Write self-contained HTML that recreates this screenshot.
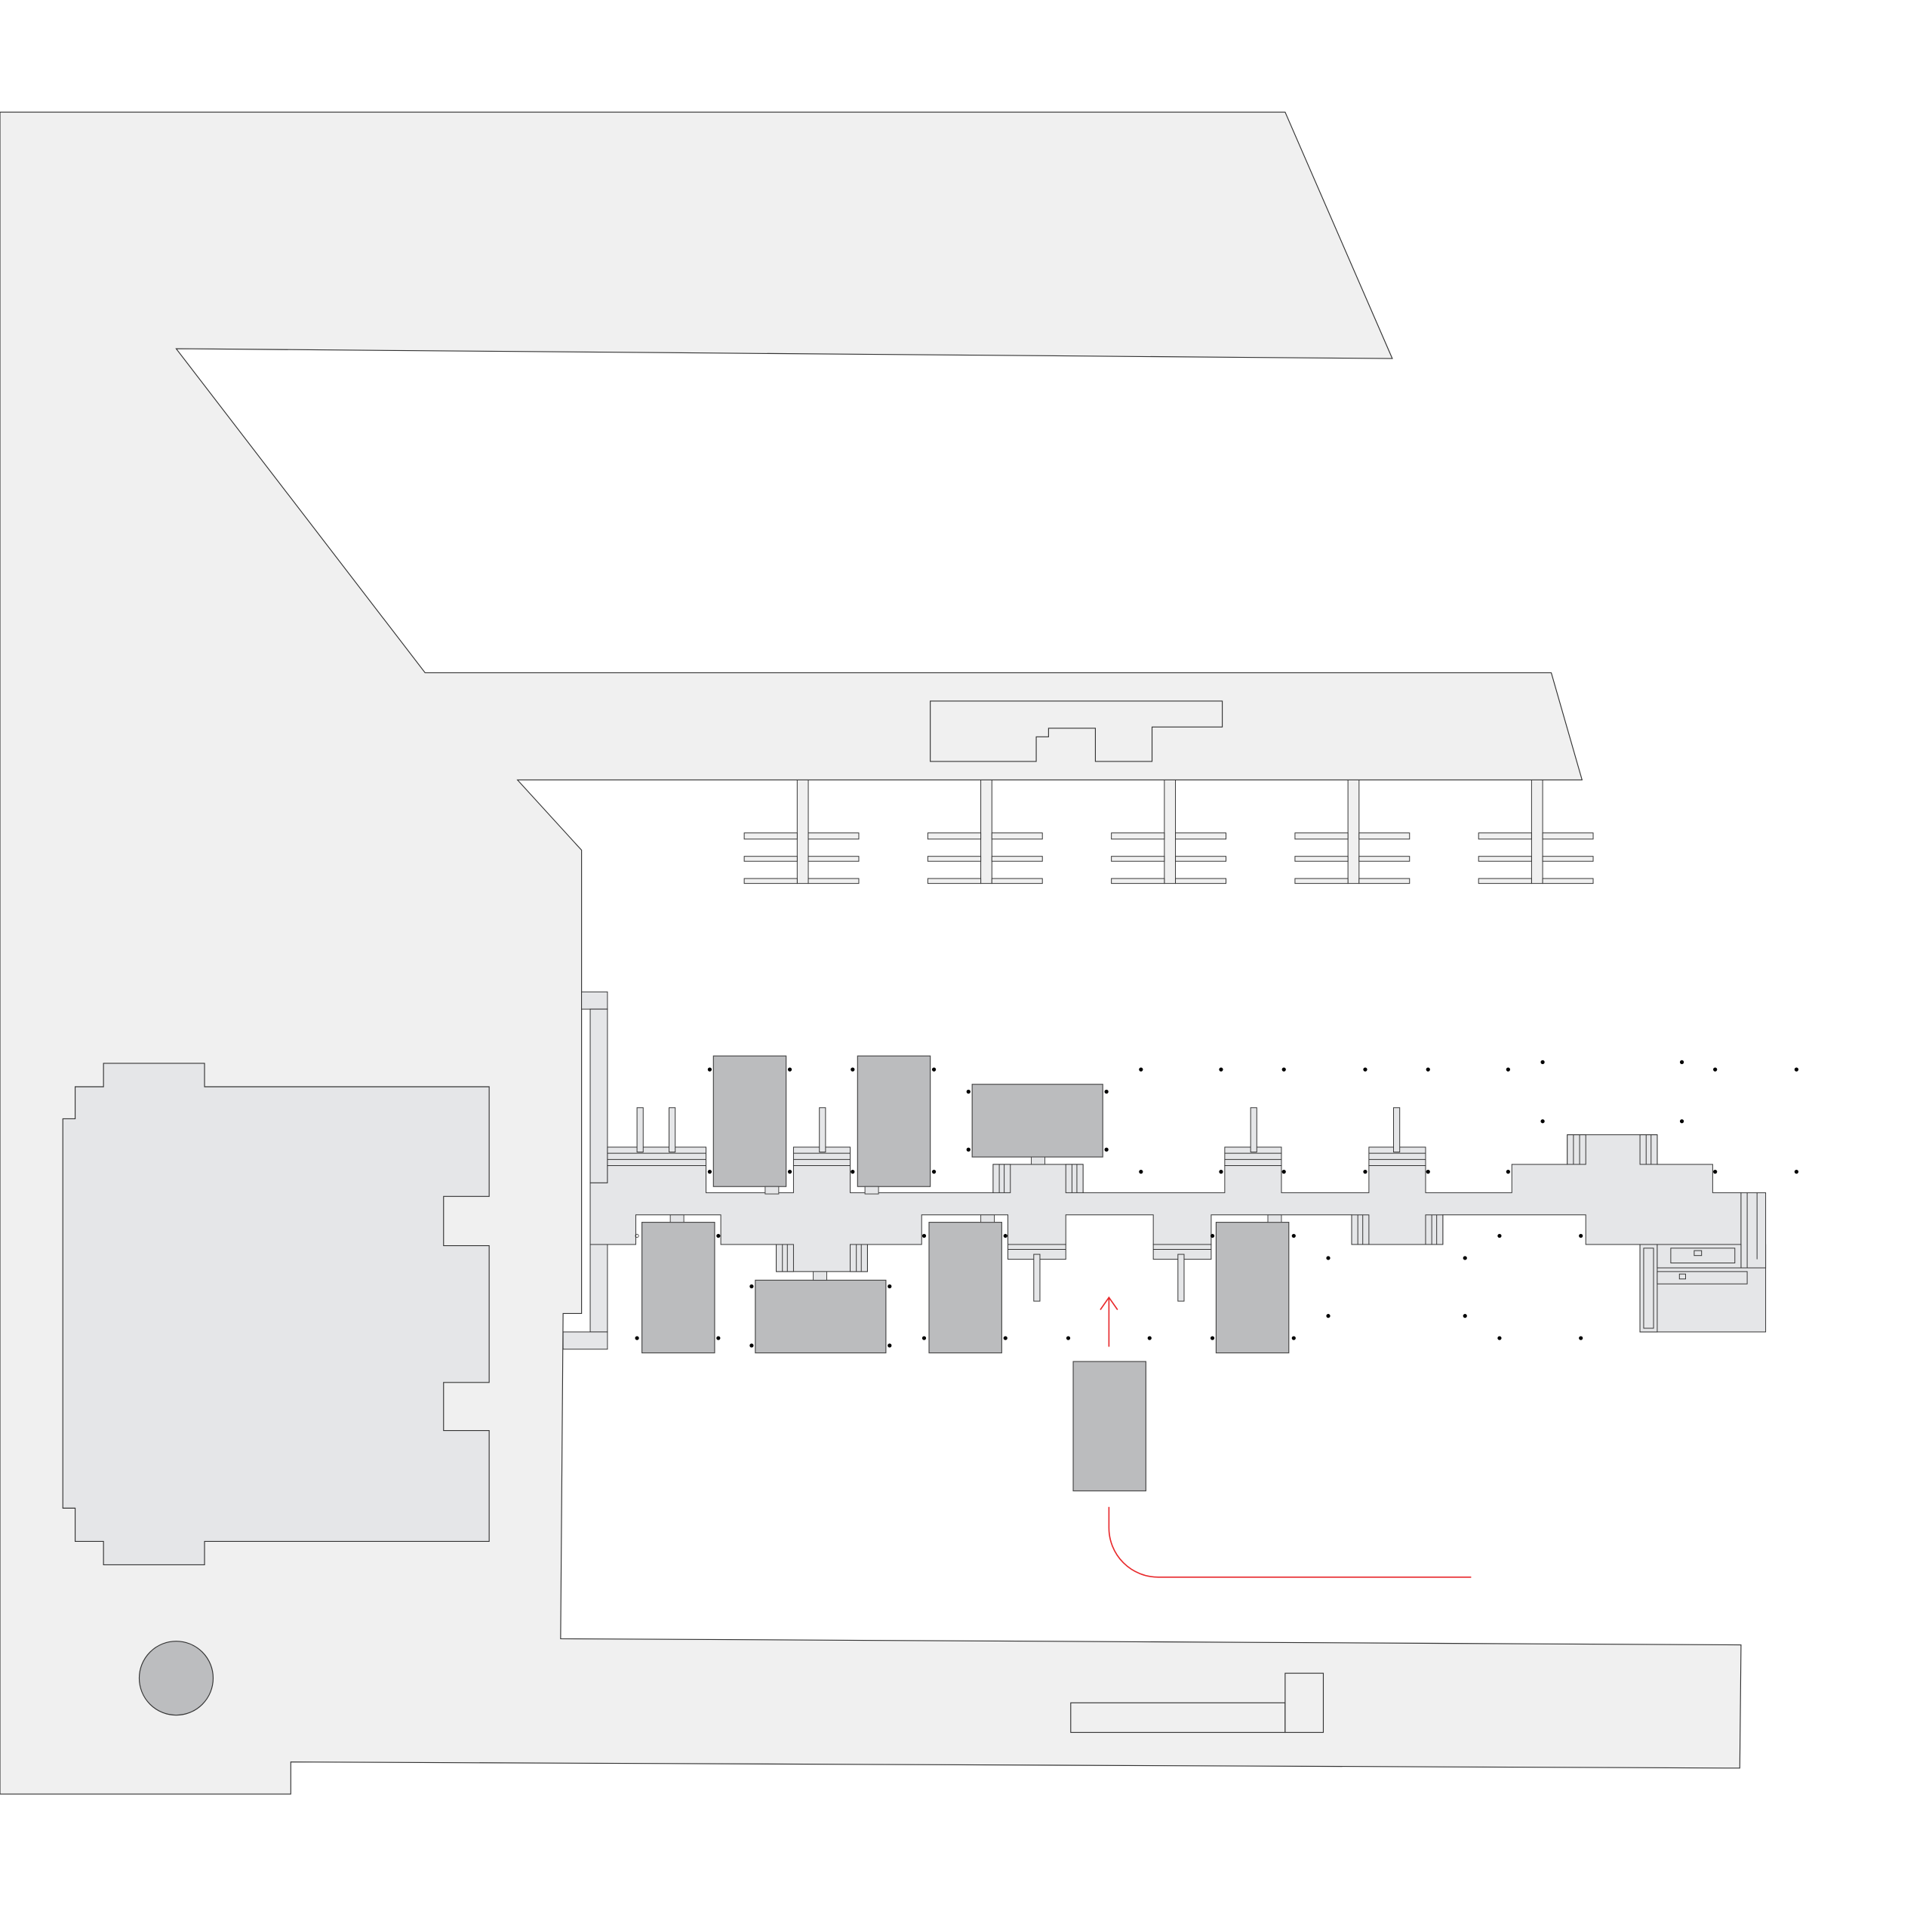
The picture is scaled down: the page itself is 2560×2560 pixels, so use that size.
<!DOCTYPE html>
<html><head><meta charset="utf-8"><style>html,body{margin:0;padding:0;background:#fff}svg{display:block}</style></head>
<body>
<svg width="2560" height="2560" viewBox="0 0 1568 1568" xmlns="http://www.w3.org/2000/svg">
<g stroke="#333" stroke-width="0.7" fill="#f0f0f0">
<polygon points="0,91 1043,91 1130,291 143,283 345,546 1259,546 1284,633 420,633 472,690 472,1066 457,1066 455,1330 1413,1335 1412,1435 236,1430 236,1456 0,1456"/>
<polygon points="755,569 992,569 992,590 935,590 935,618 889,618 889,591 851,591 851,598 841,598 841,618 755,618"/>
<rect x="869" y="1382" width="174" height="24"/>
<rect x="1043" y="1358" width="31" height="48"/>
</g>
<polygon fill="#e5e6e8" stroke="#333" stroke-width="0.7" points="84,863 166,863 166,882 397,882 397,971 360,971 360,1011 397,1011 397,1122 360,1122 360,1161 397,1161 397,1251 166,1251 166,1270 84,1270 84,1251 61,1251 61,1224 51,1224 51,908 61,908 61,882 84,882"/>
<circle cx="143" cy="1362" r="30" fill="#bcbdbf" stroke="#333" stroke-width="0.7"/>
<g stroke="#333" stroke-width="0.6" fill="#f0f0f0">
<g id="e1"><rect x="647" y="633" width="9" height="84"/><rect x="604" y="676" width="43" height="5"/><rect x="604" y="695" width="43" height="4"/><rect x="604" y="713" width="43" height="4"/><rect x="656" y="676" width="41" height="5"/><rect x="656" y="695" width="41" height="4"/><rect x="656" y="713" width="41" height="4"/></g>
<use href="#e1" x="149"/><use href="#e1" x="298"/><use href="#e1" x="447"/><use href="#e1" x="596"/>
</g>
<g stroke="#333" stroke-width="0.6" fill="#e5e6e8">
<rect x="472" y="805" width="21" height="14"/>
<rect x="479" y="819" width="14" height="141"/>
<rect x="479" y="1010" width="14" height="71"/>
<rect x="457" y="1081" width="36" height="14"/>
<rect x="1331" y="1010" width="102" height="71"/>
<polygon points="479,960 493,960 493,946 573,946 573,968 644,968 644,946 690,946 690,968 806,968 806,945 879,945 879,968 994,968 994,946 1040,946 1040,968 1111,968 1111,946 1157,946 1157,968 1227,968 1227,945 1272,945 1272,921 1345,921 1345,945 1390,945 1390,968 1413,968 1413,1010 1287,1010 1287,986 1171,986 1171,1010 1097,1010 1097,986 983,986 983,1010 936,1010 936,986 865,986 865,1010 818,1010 818,986 748,986 748,1010 704,1010 704,1032 630,1032 630,1010 585,1010 585,986 516,986 516,1010 479,1010"/>
<!-- stair bands -->
<rect x="493" y="931" width="80" height="15"/><line x1="493" y1="936" x2="573" y2="936"/><line x1="493" y1="941" x2="573" y2="941"/>
<rect x="644" y="931" width="46" height="15"/><line x1="644" y1="936" x2="690" y2="936"/><line x1="644" y1="941" x2="690" y2="941"/>
<rect x="994" y="931" width="46" height="15"/><line x1="994" y1="936" x2="1040" y2="936"/><line x1="994" y1="941" x2="1040" y2="941"/>
<rect x="1111" y="931" width="46" height="15"/><line x1="1111" y1="936" x2="1157" y2="936"/><line x1="1111" y1="941" x2="1157" y2="941"/>
<rect x="517" y="899" width="5" height="36"/><rect x="543" y="899" width="5" height="36"/><rect x="665" y="899" width="5" height="36"/><rect x="1015" y="899" width="5" height="36"/><rect x="1131" y="899" width="5" height="36"/>
<rect x="818" y="1010" width="47" height="12"/><line x1="818" y1="1014" x2="865" y2="1014"/><rect x="839" y="1018" width="5" height="38"/>
<rect x="936" y="1010" width="47" height="12"/><line x1="936" y1="1014" x2="983" y2="1014"/><rect x="956" y="1018" width="5" height="38"/>
<rect x="806" y="945" width="14" height="23"/><line x1="811" y1="945" x2="811" y2="968"/><line x1="815" y1="945" x2="815" y2="968"/>
<rect x="865" y="945" width="14" height="23"/><line x1="870" y1="945" x2="870" y2="968"/><line x1="874" y1="945" x2="874" y2="968"/>
<rect x="630" y="1010" width="14" height="22"/><line x1="635" y1="1010" x2="635" y2="1032"/><line x1="639" y1="1010" x2="639" y2="1032"/>
<rect x="690" y="1010" width="14" height="22"/><line x1="695" y1="1010" x2="695" y2="1032"/><line x1="699" y1="1010" x2="699" y2="1032"/>
<rect x="1097" y="986" width="14" height="24"/><line x1="1102" y1="986" x2="1102" y2="1010"/><line x1="1106" y1="986" x2="1106" y2="1010"/>
<rect x="1157" y="986" width="14" height="24"/><line x1="1162" y1="986" x2="1162" y2="1010"/><line x1="1166" y1="986" x2="1166" y2="1010"/>
<rect x="1272" y="921" width="15" height="24"/><line x1="1277" y1="921" x2="1277" y2="945"/><line x1="1282" y1="921" x2="1282" y2="945"/>
<rect x="1331" y="921" width="14" height="24"/><line x1="1336" y1="921" x2="1336" y2="945"/><line x1="1340" y1="921" x2="1340" y2="945"/>
<!-- right box detail -->
<rect x="1331" y="1010" width="14" height="71"/><rect x="1334" y="1013" width="8" height="65"/>
<rect x="1413" y="968" width="20" height="61"/><line x1="1418" y1="968" x2="1418" y2="1029"/><line x1="1426" y1="968" x2="1426" y2="1022"/>
<rect x="1345" y="1010" width="68" height="19"/>
<rect x="1356" y="1013" width="52" height="12"/><rect x="1375" y="1015" width="6" height="4"/>
<rect x="1345" y="1032" width="73" height="10"/><rect x="1363" y="1034" width="5" height="4"/>
</g>
<g fill="#bbbcbe" stroke="#444" stroke-width="0.7">
<rect x="579" y="857" width="59" height="106"/><rect x="696" y="857" width="59" height="106"/>
<rect x="789" y="880" width="106" height="59"/>
<rect x="521" y="992" width="59" height="106"/><rect x="613" y="1039" width="106" height="59"/>
<rect x="754" y="992" width="59" height="106"/><rect x="987" y="992" width="59" height="106"/>
<rect x="871" y="1105" width="59" height="105"/>
</g>
<g fill="#e5e6e8" stroke="#444" stroke-width="0.6">
<rect x="621" y="963" width="11" height="6"/><rect x="702" y="963" width="11" height="6"/><rect x="837" y="939" width="11" height="6"/>
<rect x="544" y="986" width="11" height="6"/><rect x="660" y="1032" width="11" height="7"/><rect x="796" y="986" width="11" height="6"/><rect x="1029" y="986" width="11" height="6"/>
</g>
<g fill="#000">
<circle cx="576" cy="868" r="1.6"/><circle cx="641" cy="868" r="1.6"/><circle cx="692" cy="868" r="1.6"/><circle cx="758" cy="868" r="1.6"/>
<circle cx="576" cy="951" r="1.6"/><circle cx="641" cy="951" r="1.6"/><circle cx="692" cy="951" r="1.6"/><circle cx="758" cy="951" r="1.6"/>
<circle cx="786" cy="886" r="1.6"/><circle cx="898" cy="886" r="1.6"/><circle cx="786" cy="933" r="1.6"/><circle cx="898" cy="933" r="1.6"/>
<circle cx="926" cy="868" r="1.6"/><circle cx="991" cy="868" r="1.6"/><circle cx="1042" cy="868" r="1.6"/><circle cx="1108" cy="868" r="1.6"/><circle cx="1159" cy="868" r="1.6"/><circle cx="1224" cy="868" r="1.6"/>
<circle cx="1252" cy="862" r="1.6"/><circle cx="1365" cy="862" r="1.6"/><circle cx="1392" cy="868" r="1.6"/><circle cx="1458" cy="868" r="1.6"/>
<circle cx="1252" cy="910" r="1.6"/><circle cx="1365" cy="910" r="1.6"/>
<circle cx="926" cy="951" r="1.6"/><circle cx="991" cy="951" r="1.6"/><circle cx="1042" cy="951" r="1.6"/><circle cx="1108" cy="951" r="1.6"/><circle cx="1159" cy="951" r="1.6"/><circle cx="1224" cy="951" r="1.6"/><circle cx="1392" cy="951" r="1.6"/><circle cx="1458" cy="951" r="1.6"/>
<circle cx="583" cy="1003" r="1.6"/><circle cx="517" cy="1086" r="1.6"/><circle cx="583" cy="1086" r="1.6"/>
<circle cx="610" cy="1044" r="1.6"/><circle cx="722" cy="1044" r="1.6"/><circle cx="610" cy="1092" r="1.6"/><circle cx="722" cy="1092" r="1.6"/>
<circle cx="750" cy="1003" r="1.6"/><circle cx="816" cy="1003" r="1.6"/><circle cx="750" cy="1086" r="1.6"/><circle cx="816" cy="1086" r="1.6"/>
<circle cx="867" cy="1086" r="1.6"/><circle cx="933" cy="1086" r="1.6"/>
<circle cx="984" cy="1003" r="1.6"/><circle cx="1050" cy="1003" r="1.6"/><circle cx="984" cy="1086" r="1.6"/><circle cx="1050" cy="1086" r="1.6"/>
<circle cx="1078" cy="1021" r="1.6"/><circle cx="1189" cy="1021" r="1.6"/><circle cx="1078" cy="1068" r="1.6"/><circle cx="1189" cy="1068" r="1.6"/>
<circle cx="1217" cy="1003" r="1.6"/><circle cx="1283" cy="1003" r="1.6"/><circle cx="1217" cy="1086" r="1.6"/><circle cx="1283" cy="1086" r="1.6"/>
</g>
<circle cx="517" cy="1003" r="1.3" fill="none" stroke="#000" stroke-width="0.4"/>
<g stroke="#e8282b" stroke-width="1" fill="none">
<line x1="900" y1="1053" x2="900" y2="1093"/>
<polyline points="893,1063 900,1053 907,1063"/>
<path d="M900,1223 V1240 A40,40 0 0 0 940,1280 H1194"/>
</g>
</svg>
</body></html>
